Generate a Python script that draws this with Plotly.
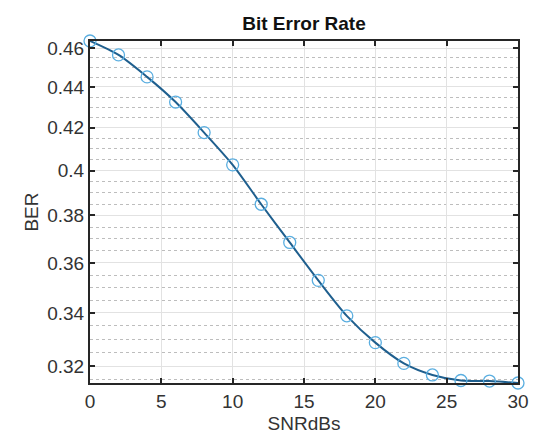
import plotly.graph_objects as go
import numpy as np

snr_db = [0, 2, 4, 6, 8, 10, 12, 14, 16, 18, 20, 22, 24, 26, 28, 30]
ber = [0.4637, 0.4564, 0.4451, 0.4325, 0.4177, 0.4026, 0.3849, 0.3685,
       0.3529, 0.3389, 0.3287, 0.3210, 0.3168, 0.3148, 0.3146, 0.3139]
y_ticks = [0.32, 0.34, 0.36, 0.38, 0.40, 0.42, 0.44, 0.46]
y_ticktext = ["0.32", "0.34", "0.36", "0.38", "0.4", "0.42", "0.44", "0.46"]
y_minor = [0.315, 0.325, 0.33, 0.335, 0.345, 0.35, 0.355, 0.365, 0.37, 0.375,
           0.385, 0.39, 0.395, 0.405, 0.41, 0.415, 0.425, 0.43, 0.435,
           0.445, 0.45, 0.455]
x_ticks = [0, 5, 10, 15, 20, 25, 30]

FONT = "Liberation Sans, Arial, Helvetica, sans-serif"
AX = "#262626"
TXT = "#333333"

fig = go.Figure()
fig.add_trace(go.Scatter(
    x=snr_db, y=ber, mode="lines",
    line=dict(color="#1f5f8e", width=2, shape="spline", smoothing=0.8),
    showlegend=False, hoverinfo="skip"))
fig.add_trace(go.Scatter(
    x=snr_db, y=ber, mode="markers",
    marker=dict(symbol="circle-open", size=12, color="#5aaee0", line=dict(width=1.3)),
    showlegend=False, cliponaxis=False))

fig.update_layout(
    width=545, height=441,
    margin=dict(l=82, r=35, t=33, b=66),
    paper_bgcolor="white", plot_bgcolor="white",
    font=dict(family=FONT, color=TXT, size=19),
    title=dict(text="<b>Bit Error Rate</b>", x=(82 + 510) / 2 / 545, xanchor="center",
               y=1 - 15 / 441, yanchor="middle", font=dict(size=19, color="#111111")),
)
fig.update_xaxes(
    range=[0, 30], tickvals=x_ticks, ticktext=[str(v) for v in x_ticks],
    showgrid=True, gridcolor="#e2e2e2", gridwidth=1,
    showline=True, linecolor=AX, linewidth=2, mirror="ticks",
    ticks="inside", ticklen=5, tickcolor=AX, tickwidth=1.5,
    zeroline=False, tickfont=dict(size=19, color=TXT),
    title=dict(text="SNRdBs", font=dict(size=19, color=TXT), standoff=6),
)
fig.update_yaxes(
    type="log", range=[np.log10(0.3139), np.log10(0.4637)],
    tickmode="array", tickvals=y_ticks, ticktext=y_ticktext,
    showgrid=True, gridcolor="#e2e2e2", gridwidth=1,
    showline=True, linecolor=AX, linewidth=2, mirror="ticks",
    ticks="inside", ticklen=5, tickcolor=AX, tickwidth=1.5,
    zeroline=False, tickfont=dict(size=19, color=TXT),
    minor=dict(tickmode="array", tickvals=y_minor, showgrid=True,
               gridcolor="#bdbdbd", griddash="dot", gridwidth=1, ticklen=0),
    title=dict(text="BER", font=dict(size=19, color=TXT), standoff=4),
)
fig.write_html("out.html")
